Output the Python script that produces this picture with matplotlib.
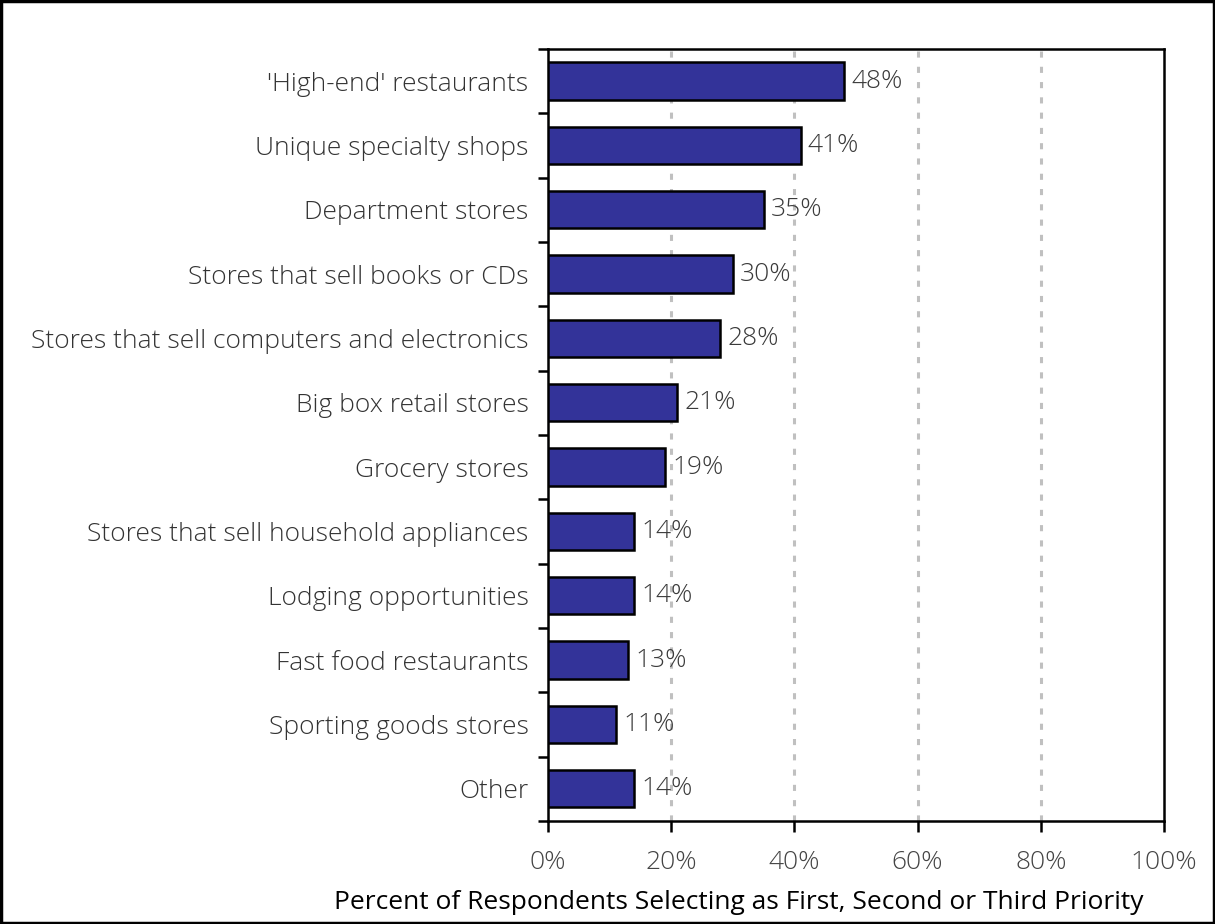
import matplotlib
matplotlib.use("Agg")
import matplotlib.pyplot as plt
from matplotlib import font_manager
from matplotlib.ticker import FixedLocator, FuncFormatter

categories = [
    "'High-end' restaurants",
    "Unique specialty shops",
    "Department stores",
    "Stores that sell books or CDs",
    "Stores that sell computers and electronics",
    "Big box retail stores",
    "Grocery stores",
    "Stores that sell household appliances",
    "Lodging opportunities",
    "Fast food restaurants",
    "Sporting goods stores",
    "Other",
]
values = [48, 41, 35, 30, 28, 21, 19, 14, 14, 13, 11, 14]
x_ticks = [0, 20, 40, 60, 80, 100]
x_label = "Percent of Respondents Selecting as First, Second or Third Priority"

names = {f.name for f in font_manager.fontManager.ttflist}
family = "Open Sans" if "Open Sans" in names else "DejaVu Sans"
plt.rcParams["font.family"] = [family, "DejaVu Sans"]

FS = 19
WT = 300

fig = plt.figure(figsize=(12.15, 9.24), dpi=100)
ax = fig.add_axes([0.451, 0.1115, 0.507, 0.8355])

n = len(categories)
ypos = list(range(n))
ax.barh(ypos, values, height=0.58, color="#333399", edgecolor="black",
        linewidth=1.8, zorder=3)

for y, v in zip(ypos, values):
    ax.text(v + 1.2, y, f"{v}%", va="center", ha="left", fontsize=FS,
            color="#3a3a3a", fontweight=WT, zorder=4)

ax.set_xlim(0, 100)
ax.set_ylim(n - 0.5, -0.5)

ax.xaxis.set_major_locator(FixedLocator(x_ticks))
ax.xaxis.set_major_formatter(FuncFormatter(lambda v, p: f"{v:.0f}%"))
for xv in x_ticks[1:-1]:
    ax.axvline(xv, color="#c0c0c0", linewidth=2.2, linestyle=(0, (2, 3)), zorder=1)

ax.set_yticks(ypos)
ax.set_yticklabels(categories, fontsize=FS, color="#333333", fontweight=WT)
ax.set_yticks([i - 0.5 for i in range(n + 1)], minor=True)
ax.tick_params(axis="y", which="major", length=0, pad=14)
ax.tick_params(axis="y", which="minor", length=7, width=1.8, direction="out")
ax.tick_params(axis="x", length=8, width=1.8, direction="out", pad=13,
               labelsize=FS, labelcolor="#444444")
for lbl in ax.get_xticklabels():
    lbl.set_fontweight(WT)

ax.set_xlabel(x_label, fontsize=FS, color="black", fontweight="normal")
ax.xaxis.set_label_coords(0.31, -0.09)

for s in ax.spines.values():
    s.set_linewidth(1.8)
    s.set_color("black")

fig.patches.append(plt.Rectangle((0.001, 0.001), 0.998, 0.998, transform=fig.transFigure,
                                 fill=False, edgecolor="black", linewidth=2.5))

fig.savefig("out.png", dpi=100, facecolor="white")
